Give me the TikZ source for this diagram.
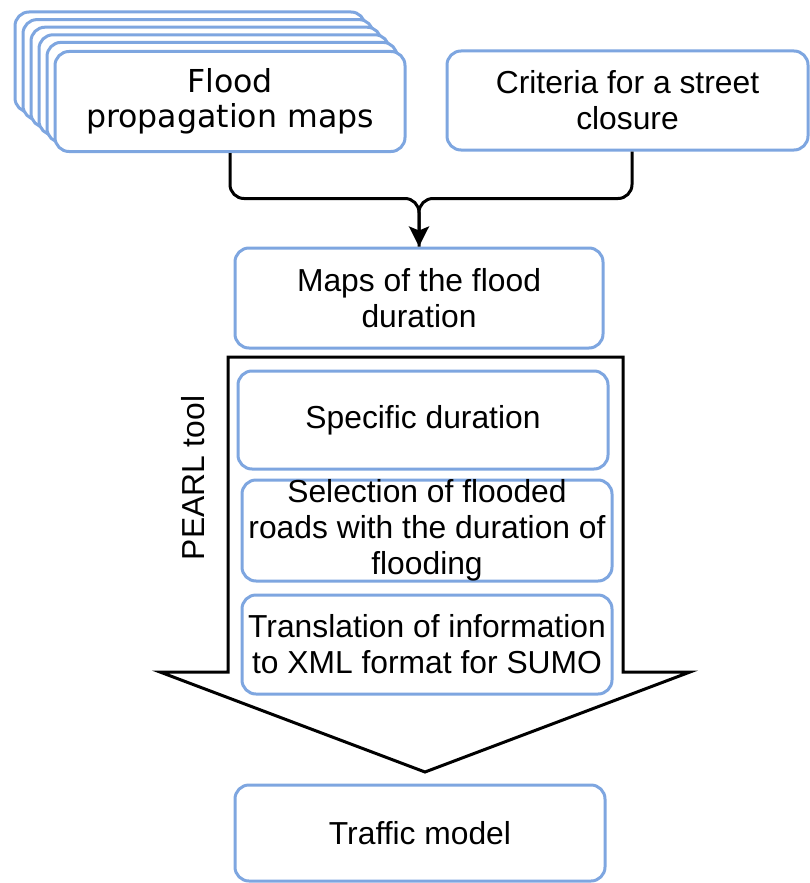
\documentclass[tikz,border=0pt]{standalone}
\usepackage{fontspec}
\setmainfont{Liberation Sans}
\newfontfamily\verdanafont{DejaVu Sans}
\usetikzlibrary{arrows.meta,calc}
\definecolor{boxblue}{HTML}{7EA6E0}
\tikzset{
  box/.style={draw=boxblue, line width=3pt, rounded corners=14pt, fill=white,
    inner sep=0pt, align=center, text=black,
    font=\fontsize{31.8}{36}\selectfont},
  conn/.style={draw=black, line width=3pt, rounded corners=14pt},
  bigarrow/.style={draw=black, line width=3pt, fill=white, line join=miter}
}
\begin{document}
\begin{tikzpicture}[x=1pt,y=-1pt]
\useasboundingbox (0,0) rectangle (809,883);
% stacked back boxes
\foreach \k in {5,4,3,2,1}{
  \node[box, minimum width=350pt, minimum height=100pt] (back\k) at ($(230,100)+(-8*\k,-7.6*\k)$) {};
}
\node[box, minimum width=350pt, minimum height=100pt, font=\verdanafont\fontsize{31.6}{35}\selectfont] (fl) at (230,101.5) {Flood\\propagation maps};
\node[box, minimum width=361pt, minimum height=99pt] (crit) at (627.5,100.5) {Criteria for a street\\closure};
\node[box, minimum width=368pt, minimum height=100pt] (maps) at (419,298) {Maps of the flood\\duration};
% connectors
\coordinate (merge) at ($(maps.north)+(0,-48)$);
\draw[conn, -{Stealth[length=20pt,width=20pt,inset=4pt]}] (fl.south) |- (merge) -- (maps.north);
\draw[conn] ($(crit.south)+(4.5,0)$) |- (merge) -- (maps.north);
% big arrow
\draw[bigarrow] (228,357) -- (623,357) -- (623,672) -- (690,672) -- (425,772) -- (160,672) -- (228,672) -- cycle;
\node[font=\fontsize{31.8}{36}\selectfont, rotate=90] (pearl) at (193,478) {PEARL tool};
\node[box, minimum width=370pt, minimum height=98pt] (spec) at (423,420) {Specific duration};
\node[box, minimum width=370pt, minimum height=101pt, inner ysep=-5pt] (sel) at (427,530.5) {Selection of flooded\\roads with the duration of\\flooding};
\node[box, minimum width=370pt, minimum height=99pt] (trans) at (427,644.5) {Translation of information\\to XML format for SUMO};
\node[box, minimum width=370pt, minimum height=96pt] (traffic) at (420,833) {Traffic model};
\end{tikzpicture}
\end{document}
